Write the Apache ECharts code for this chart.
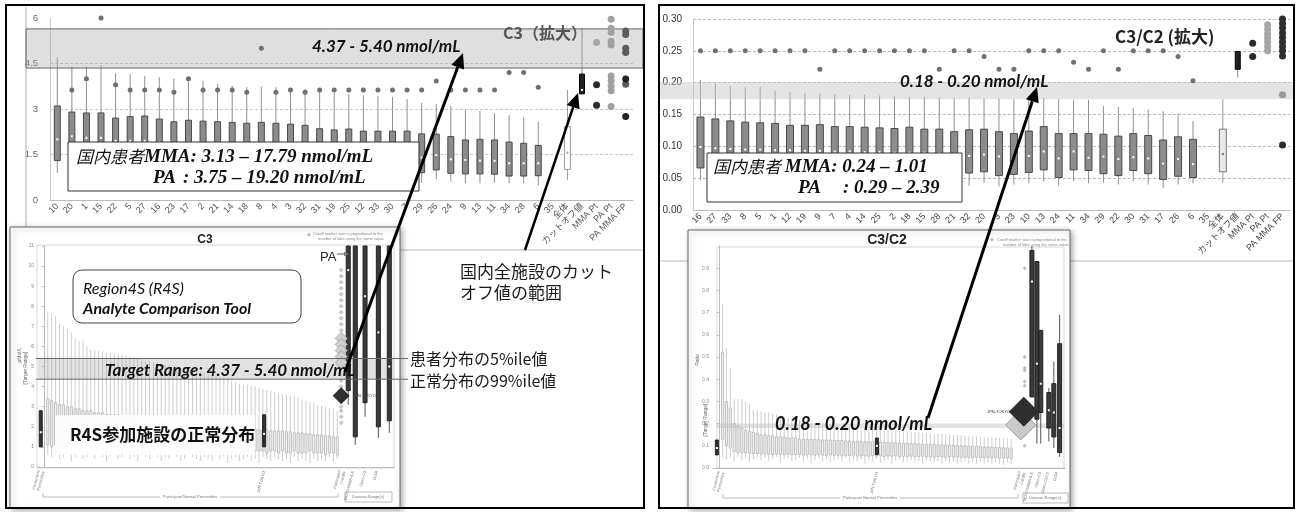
<!DOCTYPE html>
<html lang="ja">
<head>
<meta charset="UTF-8">
<title>C3 / C3/C2</title>
<script src="https://cdn.jsdelivr.net/npm/echarts@6.0.0/dist/echarts.min.js"></script>
<style>
    html, body { margin: 0; padding: 0; background: #fff; }
    #main { width: 1298px; height: 512px; }
</style>
</head>
<body>
<div id="main"></div>
<script>
// ---------- C3（拡大） ----------
var c3Cats = ['10','20','1','15','22','5','27','16','23','17','2','21','14','18','8','4','3','32','31','19','25','12','33','30','7','29','26','24','9','13','11','34','28','6','35','全体','カットオフ値','MMA Pt','PA Pt','PA MMA FP'];
var c3Lo  = [0.9, 0.7, 0.7, 0.65, 0.7, 0.6, 0.65, 0.6, 0.6, 0.6, 0.55, 0.6, 0.55, 0.55, 0.6, 0.55, 0.5, 0.55, 0.6, 0.55, 0.5, 0.55, 0.5, 0.5, 0.55, 0.57, 0.69, 0.6, 0.55, 0.55, 0.57, 0.55, 0.55, 0.49, null, 0.66, 3.5];
var c3Q1  = [1.3, 1.45, 1.4, 1.4, 1.35, 1.35, 1.35, 1.3, 1.3, 1.3, 1.25, 1.25, 1.25, 1.2, 1.25, 1.2, 1.2, 1.2, 1.15, 1.1, 1.1, 1.1, 1.05, 1.05, 1.0, 0.9, 0.99, 0.88, 0.86, 0.86, 0.85, 0.79, 0.79, 0.8, null, 1.01, 3.5];
var c3Med = [2.0, 2.1, 2.05, 2.05, 1.95, 1.95, 1.95, 1.9, 1.85, 1.85, 1.85, 1.8, 1.8, 1.8, 1.8, 1.75, 1.75, 1.75, 1.7, 1.65, 1.65, 1.6, 1.6, 1.6, 1.55, 1.4, 1.48, 1.34, 1.32, 1.3, 1.29, 1.21, 1.21, 1.21, null, 1.56, 3.63];
var c3Q3  = [3.1, 2.9, 2.87, 2.87, 2.7, 2.75, 2.77, 2.67, 2.58, 2.63, 2.6, 2.58, 2.56, 2.53, 2.56, 2.53, 2.5, 2.46, 2.35, 2.31, 2.34, 2.27, 2.27, 2.27, 2.27, 2.18, 2.17, 2.09, 1.98, 2.0, 1.98, 1.91, 1.87, 1.8, null, 2.42, 4.15];
var c3Hi  = [4.7, 4.4, 4.4, 4.45, 4.18, 4.15, 4.09, 4.05, 4.0, 4.0, 3.92, 3.82, 3.76, 3.72, 3.74, 3.72, 3.65, 3.65, 3.6, 3.53, 3.5, 3.45, 3.42, 3.4, 3.33, 3.2, 3.17, 3.1, 2.97, 2.93, 2.86, 2.8, 2.73, 2.58, null, 3.63, 5.67];
var c3Out = [null, 3.63, 4.0, 6.0, 3.8, 3.63, 3.63, 3.63, 3.55, 4.0, 3.63, 3.63, 3.63, 3.55, 5.0, 3.55, 3.63, 3.55, 3.63, 3.63, 3.63, 3.63, 3.63, 3.63, 3.63, 3.63, 3.92, 3.63, 3.63, 3.63, 3.63, 4.2, 4.2, 3.72];
var c3MmaPtLight = [5.19];
var c3MmaPtDark = [3.8, 3.12];
var c3PaPt = [5.96, 5.66, 5.53, 5.23, 5.11, 4.09, 3.93, 3.76, 3.6, 3.08];
var c3FpGray = [5.57, 5.46, 5.0, 4.86, 3.82];
var c3FpDark = [3.99, 2.75];
var c3Band = [4.35, 5.64];

// ---------- C3/C2（拡大） ----------
var c32Cats = ['16','27','33','8','5','1','12','19','9','7','4','14','25','2','18','15','28','21','32','20','3','23','10','13','24','11','34','29','22','30','31','17','26','6','35','全体','カットオフ値','MMA Pt','PA Pt','PA MMA FP'];
var c32Lo  = [0.047, 0.046, 0.045, 0.045, 0.044, 0.044, 0.043, 0.043, 0.042, 0.042, 0.042, 0.041, 0.041, 0.040, 0.040, 0.040, 0.039, 0.039, 0.038, 0.043, 0.037, 0.040, 0.042, 0.045, 0.038, 0.045, 0.042, 0.043, 0.040, 0.045, 0.040, 0.034, 0.040, 0.042, null, 0.043, 0.208];
var c32Q1  = [0.066, 0.065, 0.064, 0.064, 0.063, 0.063, 0.062, 0.062, 0.061, 0.061, 0.061, 0.060, 0.060, 0.060, 0.059, 0.059, 0.059, 0.058, 0.058, 0.060, 0.054, 0.056, 0.059, 0.063, 0.051, 0.063, 0.062, 0.057, 0.054, 0.062, 0.057, 0.048, 0.053, 0.051, null, 0.060, 0.221];
var c32Med = [0.099, 0.097, 0.096, 0.095, 0.095, 0.094, 0.094, 0.093, 0.093, 0.092, 0.092, 0.091, 0.091, 0.090, 0.090, 0.090, 0.089, 0.088, 0.085, 0.087, 0.084, 0.083, 0.085, 0.092, 0.081, 0.092, 0.082, 0.084, 0.080, 0.083, 0.081, 0.073, 0.080, 0.072, null, 0.088, null];
var c32Q3  = [0.146, 0.143, 0.140, 0.138, 0.137, 0.136, 0.133, 0.133, 0.134, 0.131, 0.131, 0.130, 0.129, 0.128, 0.130, 0.127, 0.127, 0.123, 0.126, 0.127, 0.123, 0.120, 0.124, 0.131, 0.120, 0.120, 0.120, 0.119, 0.116, 0.120, 0.117, 0.110, 0.115, 0.111, null, 0.127, 0.249];
var c32Hi  = [0.204, 0.199, 0.195, 0.193, 0.193, 0.187, 0.185, 0.184, 0.183, 0.182, 0.181, 0.181, 0.180, 0.179, 0.178, 0.178, 0.177, 0.177, 0.177, 0.175, 0.175, 0.174, 0.174, 0.176, 0.174, 0.173, 0.173, 0.163, 0.162, 0.160, 0.158, 0.155, 0.152, 0.140, null, 0.174, 0.25];
var c32Out = [0.25, 0.25, 0.25, 0.25, 0.25, 0.25, 0.25, 0.25, 0.221, 0.25, 0.25, 0.25, 0.25, 0.25, 0.25, 0.25, 0.221, 0.25, 0.25, 0.241, 0.221, 0.221, 0.25, 0.25, 0.25, 0.232, 0.221, 0.25, 0.221, 0.25, 0.25, 0.25, 0.241, 0.203];
var c32MmaPt = [0.262, 0.241];
var c32PaPt = [0.291, 0.284, 0.277, 0.27, 0.264, 0.257, 0.25];
var c32FpDark = [0.30, 0.293, 0.286, 0.278, 0.271, 0.264, 0.257, 0.25, 0.242, 0.102];
var c32FpGray = [0.181];
var c32Band = [0.174, 0.201];

// ---------- R4S inset: C3 ----------
var insC3Hi = [7.7, 7.6, 7.5, 7.1, 7.0, 6.9, 6.7, 6.4, 6.3, 6.3,
               6.0, 5.85, 5.8, 5.8, 5.75, 5.7, 5.7, 5.65, 5.6, 5.6,
               5.55, 5.5, 5.45, 5.4, 5.3, 5.25, 5.25, 5.2, 5.2, 5.15,
               5.1, 5.05, 5.0, 5.0, 4.95, 4.9, 4.9, 4.85, 4.8, 4.75,
               4.7, 4.65, 4.6, 4.55, 4.5, 4.45, 4.4, 4.3, 4.2, 4.15,
               4.1, 4.1, 4.05, 4.0, 3.95, 3.9, 3.85, 3.8, 3.75, 3.7,
               3.65, 3.6, 3.55, 3.5, 3.45, 3.35, 3.3, 3.25, 3.2, 3.1,
               3.05, 3.0, 2.95, 2.9, 2.8];
var insC3Q3 = [3.4, 3.3, 3.2, 3.1, 3.1, 3.0, 3.0, 2.9, 2.9, 2.8,
               2.8, 2.8, 2.7, 2.7, 2.7, 2.6, 2.6, 2.6, 2.6, 2.5,
               2.5, 2.5, 2.5, 2.4, 2.4, 2.4, 2.4, 2.4, 2.3, 2.3,
               2.3, 2.3, 2.3, 2.2, 2.2, 2.2, 2.2, 2.2, 2.1, 2.1,
               2.1, 2.1, 2.1, 2.0, 2.0, 2.0, 2.0, 2.0, 1.95, 1.95,
               1.9, 1.9, 1.9, 1.9, 1.85, 1.85, 1.85, 1.8, 1.8, 1.8,
               1.8, 1.75, 1.75, 1.7, 1.7, 1.7, 1.65, 1.65, 1.6, 1.6,
               1.6, 1.55, 1.55, 1.5, 1.5];
var insC3Q1 = [1.1, 1.0, 1.1, 1.0, 0.9, 1.0, 1.1, 1.0, 0.9, 1.0,
               1.0, 0.9, 1.0, 1.1, 0.9, 1.0, 0.9, 1.0, 1.0, 0.9,
               1.0, 0.9, 0.9, 1.0, 0.9, 0.9, 1.0, 0.9, 0.9, 0.8,
               0.9, 0.9, 0.9, 0.8, 0.9, 0.9, 0.8, 0.9, 0.9, 0.8,
               0.8, 0.9, 0.8, 0.8, 0.9, 0.8, 0.8, 0.8, 0.8, 0.9,
               0.8, 0.8, 0.7, 0.8, 0.8, 0.8, 0.7, 0.8, 0.8, 0.7,
               0.8, 0.7, 0.7, 0.8, 0.7, 0.7, 0.7, 0.8, 0.7, 0.7,
               0.7, 0.6, 0.7, 0.7, 0.6];
var insC3Lo = [0.6, 0.5, 0.7, 0.4, 0.5, 0.6, 0.3, 0.5, 0.6, 0.4,
               0.5, 0.6, 0.4, 0.7, 0.5, 0.3, 0.5, 0.6, 0.4, 0.5,
               0.6, 0.4, 0.5, 0.3, 0.6, 0.5, 0.4, 0.6, 0.5, 0.3,
               0.5, 0.4, 0.6, 0.5, 0.3, 0.4, 0.6, 0.5, 0.4, 0.3,
               0.5, 0.4, 0.3, 0.6, 0.4, 0.5, 0.2, 0.4, 0.5, 0.3,
               0.4, 0.5, 0.3, 0.4, 0.2, 0.5, 0.4, 0.3, 0.5, 0.4,
               0.3, 0.4, 0.2, 0.5, 0.3, 0.4, 0.3, 0.2, 0.4, 0.3,
               0.4, 0.3, 0.5, 0.3, 0.4];
var insC3MarkX = [-0.8, 56.3];            // Consensus Percentiles, JPN-TOKYO
var insC3MarkBox = [[1.0, 1.0, 1.73, 2.8, 2.8], [1.0, 1.0, 1.65, 2.6, 2.6]];
var insC3DisX = [77.8, 79.6, 82.1, 85.5, 88.3];
var insC3DisLo = [3.1, 1.1, 2.5, 1.45, 1.7];
var insC3DisQ1 = [3.8, 1.5, 3.2, 2.0, 2.3];
var insC3DisMed = [9.8, null, 8.5, 6.7, 5.0];
var insC3DisQ3 = [11, 11, 11, 11, 11];
var insC3DisHi = [11, 11, 11, 11, 11];
var insC3CutX = 76;
var insC3CutSmall = [9.8, 9.5, 9.2, 8.9, 8.6, 8.3, 8.0, 7.7, 7.4, 7.1, 6.8, 4.9, 4.6, 4.3, 4.0, 3.0, 2.8, 2.5, 2.2];
var insC3CutBig = [6.4, 6.1, 5.8, 5.5, 5.2];
var insC3CutJpn = [3.55];
var insC3Target = [4.37, 5.40];

// ---------- R4S inset: C3/C2 ----------
var insC32Hi = [0.74, 0.54, 0.45, 0.31, 0.31, 0.31, 0.30, 0.29, 0.26, 0.26,
                0.255, 0.25, 0.25, 0.245, 0.24, 0.235, 0.23, 0.225, 0.22, 0.22,
                0.215, 0.21, 0.21, 0.205, 0.205, 0.2, 0.2, 0.2, 0.195, 0.195,
                0.19, 0.19, 0.19, 0.185, 0.185, 0.18, 0.18, 0.18, 0.18, 0.175,
                0.175, 0.175, 0.17, 0.17, 0.17, 0.17, 0.168, 0.165, 0.165, 0.165,
                0.162, 0.16, 0.16, 0.16, 0.158, 0.155, 0.155, 0.155, 0.152, 0.15,
                0.15, 0.15, 0.148, 0.147, 0.145, 0.145, 0.143, 0.142, 0.14, 0.14,
                0.138, 0.137, 0.135, 0.135, 0.133, 0.13];
var insC32Q3 = [0.52, 0.30, 0.27, 0.2, 0.19, 0.18, 0.17, 0.165, 0.16, 0.155,
                0.15, 0.15, 0.145, 0.145, 0.14, 0.14, 0.14, 0.135, 0.135, 0.135,
                0.13, 0.13, 0.13, 0.13, 0.128, 0.128, 0.126, 0.126, 0.125, 0.125,
                0.124, 0.124, 0.122, 0.122, 0.12, 0.12, 0.12, 0.118, 0.118, 0.118,
                0.116, 0.116, 0.115, 0.115, 0.114, 0.114, 0.112, 0.112, 0.11, 0.11,
                0.11, 0.108, 0.108, 0.107, 0.106, 0.106, 0.105, 0.104, 0.103, 0.103,
                0.102, 0.101, 0.1, 0.1, 0.099, 0.098, 0.097, 0.096, 0.095, 0.095,
                0.094, 0.093, 0.092, 0.091, 0.09, 0.09];
var insC32Q1 = [0.13, 0.1, 0.09, 0.075, 0.07, 0.07, 0.068, 0.066, 0.065, 0.064,
                0.063, 0.065, 0.062, 0.06, 0.063, 0.061, 0.06, 0.062, 0.059, 0.06,
                0.061, 0.058, 0.06, 0.059, 0.057, 0.06, 0.058, 0.056, 0.059, 0.057,
                0.058, 0.055, 0.057, 0.056, 0.058, 0.054, 0.056, 0.055, 0.053, 0.056,
                0.054, 0.055, 0.052, 0.054, 0.053, 0.055, 0.051, 0.053, 0.052, 0.054,
                0.05, 0.052, 0.053, 0.05, 0.051, 0.049, 0.052, 0.05, 0.048, 0.051,
                0.049, 0.05, 0.047, 0.049, 0.048, 0.046, 0.049, 0.047, 0.045, 0.048,
                0.046, 0.047, 0.044, 0.046, 0.045, 0.043];
var insC32Lo = [0.05, 0.04, 0.045, 0.03, 0.05, 0.035, 0.045, 0.03, 0.04, 0.05,
                0.035, 0.045, 0.03, 0.04, 0.05, 0.025, 0.04, 0.045, 0.03, 0.035,
                0.045, 0.03, 0.04, 0.02, 0.035, 0.045, 0.03, 0.04, 0.025, 0.035,
                0.04, 0.03, 0.045, 0.025, 0.035, 0.03, 0.04, 0.02, 0.035, 0.03,
                0.04, 0.025, 0.03, 0.035, 0.02, 0.03, 0.04, 0.025, 0.03, 0.035,
                0.025, 0.03, 0.02, 0.035, 0.03, 0.025, 0.03, 0.02, 0.03, 0.025,
                0.03, 0.02, 0.025, 0.03, 0.02, 0.025, 0.02, 0.03, 0.02, 0.025,
                0.02, 0.025, 0.02, 0.015, 0.025, 0.02];
var insC32MarkX = [-0.5, 41.1];
var insC32MarkBox = [[0.059, 0.059, 0.09, 0.126, 0.126], [0.06, 0.06, 0.1, 0.135, 0.135]];
var insC32DisX = [81.4, 82.7, 83.7, 85.8, 87.1, 88.6];
var insC32DisLo = [0.32, 0.11, 0.11, 0.12, 0.09, 0.05];
var insC32DisQ1 = [0.32, 0.22, 0.25, 0.18, 0.14, 0.07];
var insC32DisMed = [0.84, 0.47, 0.38, 0.26, 0.25, 0.18];
var insC32DisQ3 = [0.98, 0.93, 0.62, 0.34, 0.38, 0.56];
var insC32DisHi = [1.0, 0.93, 0.62, 0.36, 0.48, 0.69];
var insC32CutX = [79.5, 78.5, 79.3];   // small marks, light diamond, JPN-TOKYO diamond
var insC32CutSmall = [0.9, 0.5, 0.45, 0.44, 0.39, 0.37, 0.3, 0.28, 0.16, 0.15, 0.1];
var insC32CutLight = [0.194];
var insC32CutJpn = [0.253];
var insC32Target = [0.18, 0.20];

// ---------- helpers ----------
function rows(xs, lo, q1, med, q3, hi) {
    var out = [];
    for (var i = 0; i < xs.length; i++) {
        if (q3[i] == null) continue;
        out.push([xs[i], lo[i], q1[i], med[i] == null ? '-' : med[i], q3[i], hi[i]]);
    }
    return out;
}
function seq(a, b) { var r = []; for (var i = a; i <= b; i++) r.push(i); return r; }
function pick(arr, idx) { return idx.map(function (i) { return arr[i]; }); }
function col(list, k) { return list.map(function (b) { return b[k]; }); }
function pts(x, vals) { return vals.map(function (v) { return [x, v]; }); }
function outPts(vals) {
    var r = [];
    vals.forEach(function (v, i) { if (v != null) r.push([i, v]); });
    return r;
}

function boxRender(st) {
    return function (params, api) {
        var x = api.value(0);
        var pLo = api.coord([x, api.value(1)]);
        var pQ1 = api.coord([x, api.value(2)]);
        var pQ3 = api.coord([x, api.value(4)]);
        var pHi = api.coord([x, api.value(5)]);
        var cx = pLo[0], w = st.width;
        var kids = [
            {type: 'line', shape: {x1: cx, y1: pHi[1], x2: cx, y2: pLo[1]},
             style: {stroke: st.whisker, lineWidth: st.lw || 1}},
            {type: 'rect', shape: {x: cx - w / 2, y: pQ3[1], width: w, height: Math.max(pQ1[1] - pQ3[1], 1)},
             style: {fill: st.fill, stroke: st.stroke, lineWidth: st.lw || 1}}
        ];
        var med = api.value(3);
        if (st.median && !isNaN(med)) {
            var pM = api.coord([x, med]);
            kids.push({type: 'rect', shape: {x: cx - 1, y: pM[1] - 1, width: 2, height: 2}, style: {fill: st.median}});
        }
        return {type: 'group', children: kids};
    };
}
function boxSeries(ax, data, st, z) {
    return {
        type: 'custom', xAxisIndex: ax, yAxisIndex: ax, data: data, z: z || 2,
        encode: {x: 0, y: [1, 2, 4, 5]}, renderItem: boxRender(st), silent: true
    };
}
function dotSeries(ax, data, size, color, symbol, z, border) {
    return {
        type: 'scatter', xAxisIndex: ax, yAxisIndex: ax, data: data, z: z || 5,
        symbol: symbol || 'circle', symbolSize: size, silent: true,
        itemStyle: {color: color, opacity: 1, borderColor: border || color, borderWidth: border ? 1 : 0}
    };
}

var mainIdx = seq(0, 33);
var insC3X = seq(1, insC3Hi.length);
var insC32X = seq(1, insC32Hi.length);
var noMed3 = insC3Hi.map(function () { return null; });
var noMed32 = insC32Hi.map(function () { return null; });
var boxStyle = {width: 6, fill: '#8c8c8c', stroke: '#4a4a4a', whisker: '#8f8f8f', median: '#fff'};
var faintStyle = {width: 2.2, fill: '#f0f0f0', stroke: '#b4b4b4', whisker: '#c0c0c0', lw: 0.8};
var darkStyle = {width: 3, fill: '#333', stroke: '#222', whisker: '#333', median: '#fff'};
var disStyle = {width: 4, fill: '#3a3a3a', stroke: '#222', whisker: '#555', median: '#fff'};

var chart = echarts.init(document.getElementById('main'));

var option = {
    animation: false,
    textStyle: {fontFamily: '"Liberation Sans", "Noto Sans CJK JP", sans-serif'},
    grid: [
        {left: 50, top: 18, width: 583, height: 182},
        {left: 693, top: 19, width: 597, height: 191},
        {left: 38, top: 246, width: 356, height: 221},
        {left: 713, top: 246, width: 352, height: 222}
    ],
    xAxis: [
        {type: 'category', gridIndex: 0, data: c3Cats,
         axisLine: {lineStyle: {color: '#bbb'}}, axisTick: {length: 4, lineStyle: {color: '#bbb'}},
         axisLabel: {interval: 0, rotate: 45, fontSize: 9, color: '#555', margin: 5}},
        {type: 'category', gridIndex: 1, data: c32Cats,
         axisLine: {lineStyle: {color: '#bbb'}}, axisTick: {length: 4, lineStyle: {color: '#bbb'}},
         axisLabel: {interval: 0, rotate: 45, fontSize: 9, color: '#444', margin: 5}},
        {type: 'value', gridIndex: 2, min: -1.5, max: 89.5, z: 3,
         axisLine: {lineStyle: {color: '#bbb'}}, axisTick: {show: false}, axisLabel: {show: false}, splitLine: {show: false}},
        {type: 'value', gridIndex: 3, min: -1.5, max: 90, z: 3,
         axisLine: {lineStyle: {color: '#bbb'}}, axisTick: {show: false}, axisLabel: {show: false}, splitLine: {show: false}}
    ],
    yAxis: [
        {type: 'value', gridIndex: 0, min: 0, max: 6, interval: 1.5,
         axisLine: {show: true, lineStyle: {color: '#c8c8c8'}}, axisTick: {show: false},
         axisLabel: {fontSize: 9.5, color: '#666', margin: 12},
         splitLine: {show: true, showMaxLine: false, lineStyle: {color: '#c8c8c8', type: [3, 2]}}},
        {type: 'value', gridIndex: 1, min: 0, max: 0.3, interval: 0.05,
         axisLine: {show: true, lineStyle: {color: '#c8c8c8'}}, axisTick: {show: false},
         axisLabel: {fontSize: 10, color: '#333', margin: 11, formatter: function (v) { return v.toFixed(2); }},
         splitLine: {show: true, lineStyle: {color: '#bbb', type: [3, 2]}}},
        {type: 'value', gridIndex: 2, min: 0, max: 11, interval: 1, z: 3,
         axisLine: {show: true, lineStyle: {color: '#bbb'}}, axisTick: {show: true, length: 2, lineStyle: {color: '#bbb'}},
         axisLabel: {fontSize: 5, color: '#888', margin: 4}, splitLine: {show: false}},
        {type: 'value', gridIndex: 3, min: 0, max: 1, interval: 0.1, z: 3,
         axisLine: {show: true, lineStyle: {color: '#bbb'}}, axisTick: {show: true, length: 2, lineStyle: {color: '#bbb'}},
         axisLabel: {fontSize: 5, color: '#888', margin: 4, showMaxLabel: false, formatter: function (v) { return v.toFixed(1); }},
         splitLine: {show: false}}
    ],
    series: [
        // C3 main
        boxSeries(0, rows(mainIdx, c3Lo, c3Q1, c3Med, c3Q3, c3Hi), boxStyle),
        boxSeries(0, rows([35], pick(c3Lo, [35]), pick(c3Q1, [35]), pick(c3Med, [35]), pick(c3Q3, [35]), pick(c3Hi, [35])),
                  {width: 6, fill: '#fff', stroke: '#9a9a9a', whisker: '#9a9a9a', median: '#aaa'}),
        boxSeries(0, rows([36], pick(c3Lo, [36]), pick(c3Q1, [36]), pick(c3Med, [36]), pick(c3Q3, [36]), pick(c3Hi, [36])),
                  {width: 5, fill: '#222', stroke: '#000', whisker: '#888', median: '#fff'}),
        dotSeries(0, outPts(c3Out), 5, '#707070'),
        dotSeries(0, pts(37, c3MmaPtLight), 7, '#a6a6a6'),
        dotSeries(0, pts(37, c3MmaPtDark), 7, '#2b2b2b'),
        dotSeries(0, pts(38, c3PaPt), 7, '#a0a0a0'),
        dotSeries(0, pts(39, c3FpGray), 7, '#5c5c5c'),
        dotSeries(0, pts(39, c3FpDark), 7, '#222'),
        // C3/C2 main
        boxSeries(1, rows(mainIdx, c32Lo, c32Q1, c32Med, c32Q3, c32Hi), {width: 7, fill: '#8c8c8c', stroke: '#4a4a4a', whisker: '#8f8f8f', median: '#fff'}),
        boxSeries(1, rows([35], pick(c32Lo, [35]), pick(c32Q1, [35]), pick(c32Med, [35]), pick(c32Q3, [35]), pick(c32Hi, [35])),
                  {width: 7, fill: '#e8e8e8', stroke: '#777', whisker: '#999', median: '#777'}),
        boxSeries(1, rows([36], pick(c32Lo, [36]), pick(c32Q1, [36]), pick(c32Med, [36]), pick(c32Q3, [36]), pick(c32Hi, [36])),
                  {width: 5, fill: '#222', stroke: '#000', whisker: '#888'}),
        dotSeries(1, outPts(c32Out), 5, '#707070'),
        dotSeries(1, pts(37, c32MmaPt), 7, '#2b2b2b'),
        dotSeries(1, pts(38, c32PaPt), 7, '#a6a6a6'),
        dotSeries(1, pts(39, c32FpDark), 7, '#2e2e2e'),
        dotSeries(1, pts(39, c32FpGray), 7, '#9a9a9a'),
        // R4S C3 inset
        boxSeries(2, rows(insC3X, insC3Lo, insC3Q1, noMed3, insC3Q3, insC3Hi), faintStyle, 4),
        boxSeries(2, rows(insC3MarkX, col(insC3MarkBox, 0), col(insC3MarkBox, 1), col(insC3MarkBox, 2),
                          col(insC3MarkBox, 3), col(insC3MarkBox, 4)), darkStyle, 6),
        boxSeries(2, rows(insC3DisX, insC3DisLo, insC3DisQ1, insC3DisMed, insC3DisQ3, insC3DisHi), disStyle, 6),
        dotSeries(2, pts(insC3CutX, insC3CutSmall), 5, '#c8c8c8', 'diamond', 6),
        dotSeries(2, pts(insC3CutX, insC3CutBig), 12, '#cfcfcf', 'diamond', 6, '#aaa'),
        dotSeries(2, pts(insC3CutX, insC3CutJpn), 17, '#2f2f2f', 'diamond', 7),
        // R4S C3/C2 inset
        boxSeries(3, rows(insC32X, insC32Lo, insC32Q1, noMed32, insC32Q3, insC32Hi), faintStyle, 4),
        boxSeries(3, rows(insC32MarkX, col(insC32MarkBox, 0), col(insC32MarkBox, 1), col(insC32MarkBox, 2),
                          col(insC32MarkBox, 3), col(insC32MarkBox, 4)), darkStyle, 6),
        boxSeries(3, rows(insC32DisX, insC32DisLo, insC32DisQ1, insC32DisMed, insC32DisQ3, insC32DisHi), disStyle, 6),
        dotSeries(3, pts(insC32CutX[0], insC32CutSmall), 4, '#bdbdbd', 'diamond', 6),
        dotSeries(3, pts(insC32CutX[1], insC32CutLight), 30, '#cacaca', 'diamond', 6, '#999'),
        dotSeries(3, pts(insC32CutX[2], insC32CutJpn), 30, '#2e2e2e', 'diamond', 7)
    ]
};
chart.setOption(option);

// ---------- annotations ----------
function py(ax, v) { return chart.convertToPixel({yAxisIndex: ax}, v); }
function txt(s, x, y, font, fill, extra) {
    var e = {type: 'text', x: x, y: y, z: (extra && extra.z) || 12,
             style: {text: s, font: font, fill: fill, textAlign: (extra && extra.align) || 'left', textVerticalAlign: 'middle'}};
    if (extra && extra.rot) e.rotation = extra.rot;
    if (extra && extra.rich) e.style.rich = extra.rich;
    if (extra && extra.lh) e.style.lineHeight = extra.lh;
    return e;
}
function ln(x1, y1, x2, y2, color, w, z) {
    return {type: 'line', z: z || 12, shape: {x1: x1, y1: y1, x2: x2, y2: y2}, style: {stroke: color, lineWidth: w || 1}};
}
function box(x, y, w, h, fill, stroke, z, extra) {
    var s = {fill: fill, stroke: stroke, lineWidth: 1};
    if (extra) for (var k in extra) s[k] = extra[k];
    return {type: 'rect', z: z, shape: {x: x, y: y, width: w, height: h, r: (extra && extra.r) || 0}, style: s};
}
function arrow(x1, y1, x2, y2, w, head, color) {
    var a = Math.atan2(y2 - y1, x2 - x1), L = head, W = head * 0.45;
    var bx = x2 - L * Math.cos(a), by = y2 - L * Math.sin(a);
    var nx = -Math.sin(a) * W, ny = Math.cos(a) * W;
    return [
        ln(x1, y1, bx, by, color, w, 15),
        {type: 'polygon', z: 15, shape: {points: [[x2, y2], [bx + nx, by + ny], [bx - nx, by - ny]]}, style: {fill: color}}
    ];
}

var g = [];
var bold17 = 'italic bold 17px Lato, "Liberation Sans", sans-serif';
var serifBI = 'italic bold 19px "Liberation Serif", serif';
var boxRich = {
    c: {font: 'italic 17px "Noto Sans CJK JP", sans-serif', fill: '#111'},
    s: {font: serifBI, fill: '#111'}
};

// C3 main overlays
g.push(ln(26, 7, 26, 227, '#b0b0b0', 1, 1));
g.push(box(26, py(0, c3Band[1]), 617, py(0, c3Band[0]) - py(0, c3Band[1]), 'rgba(170,170,170,0.38)', '#666', 3));
g.push(txt('4.37 - 5.40 nmol/mL', 312, 47, bold17, '#111'));
g.push(txt('C3（拡大）', 503, 33, 'bold 16px "Noto Sans CJK JP", sans-serif', '#555'));
g.push(box(68, 142, 351, 49, '#fff', '#333', 8));
g.push(txt('{c|国内患者}{s|MMA: 3.13 – 17.79 nmol/mL}', 76, 157, serifBI, '#111', {rich: boxRich}));
g.push(txt('PA', 153, 178, serifBI, '#111'));
g.push(txt(': 3.75 – 19.20 nmol/mL', 183, 178, serifBI, '#111'));
g.push(ln(395, 250, 643, 250, '#bbb', 1, 1));

// C3/C2 main overlays
g.push(box(660, py(1, c32Band[1]), 633, py(1, c32Band[0]) - py(1, c32Band[1]), 'rgba(195,195,195,0.45)', null, 3, {lineWidth: 0}));
g.push(txt('0.18 - 0.20 nmol/mL', 900, 82, bold17, '#111'));
g.push(txt('C3/C2 (拡大)', 1115, 37, 'bold 17px "Noto Sans CJK JP", sans-serif', '#222'));
g.push(box(707, 153, 255, 49, '#fff', '#333', 8));
g.push(txt('{c|国内患者 }{s|MMA: 0.24 – 1.01}', 713, 167, serifBI, '#111', {rich: boxRich}));
g.push(txt('PA', 798, 188, serifBI, '#111'));
g.push(txt(': 0.29 – 2.39', 843, 188, serifBI, '#111'));
g.push(ln(659, 261, 688, 261, '#bbb', 1, 1));
g.push(ln(1070, 261, 1293, 261, '#bbb', 1, 1));

// insets: frames
g.push(box(10, 227, 390, 281, '#fff', '#666', 1, {shadowBlur: 6, shadowColor: 'rgba(0,0,0,0.35)', shadowOffsetX: 2, shadowOffsetY: 2}));
g.push(box(688, 230, 382, 278, '#fff', '#666', 1, {shadowBlur: 6, shadowColor: 'rgba(0,0,0,0.35)', shadowOffsetX: 2, shadowOffsetY: 2}));
g.push(box(37, 245, 357, 223, 'none', '#d6d6d6', 2));
g.push(box(717, 247, 347, 221, 'none', '#d6d6d6', 2));

// C3 inset texts
var t5 = '5px "Liberation Sans", sans-serif';
var t4 = '4px "Liberation Sans", sans-serif';
var rot = Math.PI * 0.42;
g.push(txt('C3', 205, 240, 'bold 12px "Liberation Sans", sans-serif', '#222', {align: 'center'}));
g.push(txt('◆', 307, 235, t5, '#bbb'));
g.push(txt('Cutoff marker size is proportional to the', 313, 234, t4, '#888'));
g.push(txt('number of labs using the same value.', 318, 239, t4, '#888'));
g.push(txt('µMol/L', 20, 355, t5, '#666', {align: 'center', rot: Math.PI / 2}));
g.push(txt('[Target Range]', 26, 368, t5, '#666', {align: 'center', rot: Math.PI / 2}));
g.push(txt('PA', 320, 257, '13px "Liberation Sans", sans-serif', '#222'));
Array.prototype.push.apply(g, arrow(337, 254, 349, 254, 1.2, 5, '#777'));
var ib0 = py(2, insC3Target[1]), ib1 = py(2, insC3Target[0]);
g.push(box(38, ib0, 356, ib1 - ib0, 'rgba(150,150,150,0.28)', null, 5, {lineWidth: 0}));
g.push(ln(36, ib0, 408, ib0, '#666', 1, 9));
g.push(ln(36, ib1, 408, ib1, '#666', 1, 9));
g.push(txt('Target Range: 4.37 - 5.40 nmol/mL', 105, 371, bold17, '#111'));
g.push(box(73, 270, 228, 53, '#fff', '#444', 8, {r: 9}));
g.push(txt('Region4S (R4S)', 83, 289, 'italic 16px Lato, "Liberation Sans", sans-serif', '#111'));
g.push(txt('Analyte Comparison Tool', 83, 309, 'italic bold 16px Lato, "Liberation Sans", sans-serif', '#111'));
g.push(box(55, 415, 200, 40, 'rgba(255,255,255,0.93)', null, 8, {lineWidth: 0}));
g.push(txt('R4S参加施設の正常分布', 70, 435, 'bold 17px "Noto Sans CJK JP", sans-serif', '#111'));
g.push(txt('JPN-TOKYO', 353, 396, t4, '#444'));
g.push(txt('Consensus\nPercentiles', 41, 471, t4, '#777', {align: 'right', rot: rot, lh: 5}));
g.push(txt('JPN-TOKYO', 264, 471, t4, '#777', {align: 'right', rot: rot}));
g.push(txt('Participant\nCutoffs', 342, 471, t4, '#777', {align: 'right', rot: rot, lh: 5}));
g.push(txt('MOTOYAMA-ILE', 353, 471, t4, '#777', {align: 'right', rot: rot}));
g.push(txt('Ozen-C3', 365, 471, t4, '#777', {align: 'right', rot: rot}));
g.push(txt('DGR', 377, 471, t4, '#777', {align: 'right', rot: rot}));
g.push(ln(43, 497, 338, 497, '#aaa', 0.8, 9));
g.push(ln(43, 493, 43, 497, '#aaa', 0.8, 9));
g.push(ln(338, 493, 338, 497, '#aaa', 0.8, 9));
g.push(box(160, 494, 60, 6, '#fff', null, 9, {lineWidth: 0}));
g.push(txt('Participant Normal Percentiles', 190, 497, t4, '#777', {align: 'center'}));
g.push(box(345, 492, 47, 10, 'none', '#aaa', 9, {lineWidth: 0.8}));
g.push(txt('Disease Range(s)', 368, 497, t4, '#777', {align: 'center'}));

// C3/C2 inset texts
g.push(txt('C3/C2', 887, 240, 'bold 14px "Liberation Sans", sans-serif', '#222', {align: 'center'}));
g.push(txt('◆', 990, 240, t5, '#bbb'));
g.push(txt('Cutoff marker size is proportional to the', 997, 240, t4, '#888'));
g.push(txt('number of labs using the same value.', 1003, 245, t4, '#888'));
g.push(txt('Ratio', 698, 360, t5, '#666', {align: 'center', rot: Math.PI / 2}));
g.push(txt('[Target Range]', 706, 420, t5, '#666', {align: 'center', rot: Math.PI / 2}));
var rb0 = py(3, insC32Target[1]), rb1 = py(3, insC32Target[0]);
g.push(box(717, rb0, 347, rb1 - rb0, 'rgba(190,190,190,0.45)', null, 5, {lineWidth: 0}));
g.push(txt('0.18 - 0.20 nmol/mL', 775, 424, 'italic bold 18px Lato, "Liberation Sans", sans-serif', '#111'));
g.push(txt('JPN-TOKYO', 1010, 412, t4, '#333', {align: 'right'}));
g.push(txt('Consensus\nPercentiles', 721, 472, t4, '#777', {align: 'right', rot: rot, lh: 5}));
g.push(txt('JPN-TOKYO', 877, 472, t4, '#777', {align: 'right', rot: rot}));
g.push(txt('Participant\nCutoffs', 1022, 472, t4, '#777', {align: 'right', rot: rot, lh: 5}));
g.push(txt('MOTOYAMA-ILE', 1032, 472, t4, '#777', {align: 'right', rot: rot}));
g.push(txt('Ozen-C3', 1040, 472, t4, '#777', {align: 'right', rot: rot}));
g.push(txt('Ozen-C3/C2', 1048, 472, t4, '#777', {align: 'right', rot: rot}));
g.push(txt('DGR', 1057, 472, t4, '#777', {align: 'right', rot: rot}));
g.push(ln(723, 498, 1018, 498, '#aaa', 0.8, 9));
g.push(ln(723, 494, 723, 498, '#aaa', 0.8, 9));
g.push(ln(1018, 494, 1018, 498, '#aaa', 0.8, 9));
g.push(box(840, 495, 60, 6, '#fff', null, 9, {lineWidth: 0}));
g.push(txt('Participant Normal Percentiles', 870, 498, t4, '#777', {align: 'center'}));
g.push(box(1023, 493, 45, 10, 'none', '#aaa', 9, {lineWidth: 0.8}));
g.push(txt('Disease Range(s)', 1045, 498, t4, '#777', {align: 'center'}));

// side notes (left panel)
var note = '17px "Noto Sans CJK JP", sans-serif';
g.push(txt('国内全施設のカット', 460, 272, note, '#1a1a1a'));
g.push(txt('オフ値の範囲', 460, 293, note, '#1a1a1a'));
g.push(txt('患者分布の5%ile値', 410, 359, '16px "Noto Sans CJK JP", sans-serif', '#1a1a1a'));
g.push(txt('正常分布の99%ile値', 410, 381, '16px "Noto Sans CJK JP", sans-serif', '#1a1a1a'));

// arrows
Array.prototype.push.apply(g, arrow(345, 372, 463, 53, 3, 15, '#000'));
Array.prototype.push.apply(g, arrow(525, 250, 578, 93, 2.5, 15, '#000'));
Array.prototype.push.apply(g, arrow(928, 418, 1037, 87, 3, 15, '#000'));

// panel frames
g.push(box(6, 5, 638, 503, 'none', '#000', 20, {lineWidth: 2}));
g.push(box(659, 5, 635, 503, 'none', '#000', 20, {lineWidth: 2}));

chart.setOption({graphic: {elements: g}});
</script>
</body>
</html>
